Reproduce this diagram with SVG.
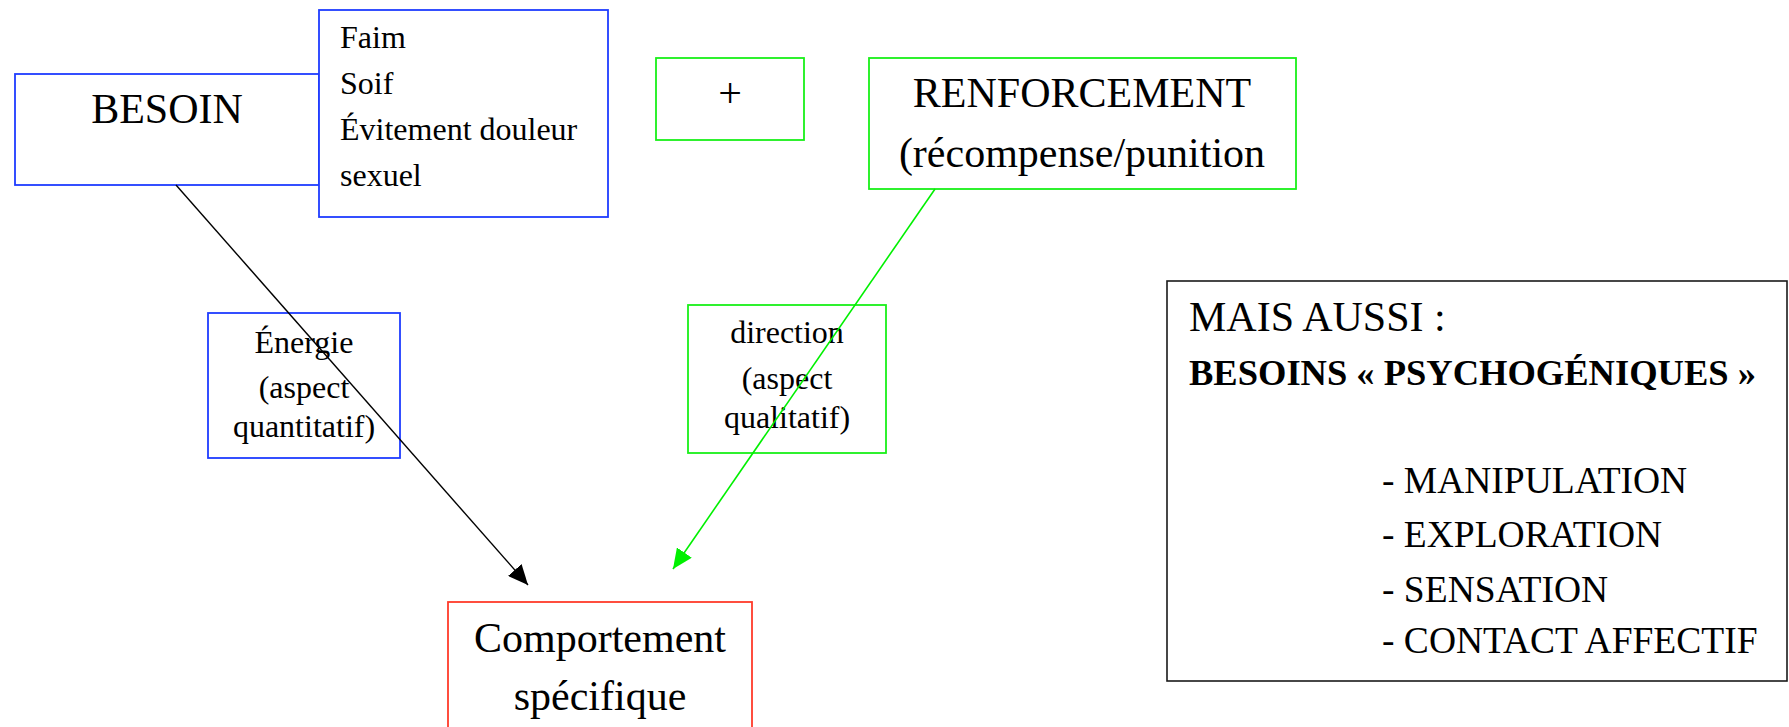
<svg xmlns="http://www.w3.org/2000/svg" width="1789" height="727" viewBox="0 0 1789 727">
  <style>
    text { font-family: "Liberation Serif", "Times New Roman", serif; fill: #000; }
    .big { font-size: 42px; }
    .mid { font-size: 32px; }
    .item { font-size: 37.5px; }
    .c { text-anchor: middle; }
    .box { fill: #fff; stroke-width: 1.8; }
    .blue { stroke: #1f3cff; }
    .green { stroke: #19f019; }
    .red { stroke: #ff3b2b; }
    .dark { stroke: #1a1a1a; stroke-width: 1.6; }
  </style>
  <defs>
    <marker id="headBlack" viewBox="0 0 20 18" refX="20" refY="9" markerWidth="20" markerHeight="18" markerUnits="userSpaceOnUse" orient="auto">
      <path d="M0,0 L20,9 L0,18 z" fill="#000"/>
    </marker>
    <marker id="headGreen" viewBox="0 0 20 18" refX="20" refY="9" markerWidth="20" markerHeight="18" markerUnits="userSpaceOnUse" orient="auto">
      <path d="M0,0 L20,9 L0,18 z" fill="#00f000"/>
    </marker>
  </defs>

  <g id="besoin">
    <rect class="box blue" x="15" y="74" width="304" height="111"/>
    <text class="big c" x="167" y="123">BESOIN</text>
  </g>

  <g id="besoin-list">
    <rect class="box blue" x="319" y="10" width="289" height="207"/>
    <text class="mid" x="340" y="48">Faim</text>
    <text class="mid" x="340" y="94">Soif</text>
    <text class="mid" x="340" y="140">Évitement douleur</text>
    <text class="mid" x="340" y="186">sexuel</text>
  </g>

  <g id="plus">
    <rect class="box green" x="656" y="58" width="148" height="82"/>
    <text class="big c" x="730" y="107">+</text>
  </g>

  <g id="renforcement">
    <rect class="box green" x="869" y="58" width="427" height="131"/>
    <text class="big c" x="1082" y="107">RENFORCEMENT</text>
    <text class="big c" x="1082" y="167">(récompense/punition</text>
  </g>

  <g id="energie">
    <rect fill="none" stroke-width="1.8" class="blue" x="208" y="313" width="192" height="145"/>
    <text class="mid c" x="304" y="353">Énergie</text>
    <text class="mid c" x="304" y="398">(aspect</text>
    <text class="mid c" x="304" y="437">quantitatif)</text>
  </g>

  <g id="direction">
    <rect fill="none" stroke-width="1.8" class="green" x="688" y="305" width="198" height="148"/>
    <text class="mid c" x="787" y="343">direction</text>
    <text class="mid c" x="787" y="389">(aspect</text>
    <text class="mid c" x="787" y="428">qualitatif)</text>
  </g>

  <g id="comportement">
    <rect class="box red" x="448" y="602" width="304" height="140"/>
    <text class="big c" x="600" y="652">Comportement</text>
    <text class="big c" x="600" y="710">spécifique</text>
  </g>

  <g id="mais-aussi">
    <rect class="box dark" x="1167" y="281" width="620" height="400"/>
    <text class="big" x="1189" y="331">MAIS AUSSI :</text>
    <text x="1189" y="385" font-size="36.5" font-weight="bold">BESOINS « PSYCHOGÉNIQUES »</text>
    <text class="item" x="1382" y="493">- MANIPULATION</text>
    <text class="item" x="1382" y="547">- EXPLORATION</text>
    <text class="item" x="1382" y="602">- SENSATION</text>
    <text class="item" x="1382" y="653">- CONTACT AFFECTIF</text>
  </g>

  <g id="connectors">
    <line x1="176" y1="185" x2="528" y2="585" stroke="#000" stroke-width="1.4" marker-end="url(#headBlack)"/>
    <line x1="935" y1="189" x2="673" y2="569" stroke="#00f000" stroke-width="1.6" marker-end="url(#headGreen)"/>
  </g>
</svg>
